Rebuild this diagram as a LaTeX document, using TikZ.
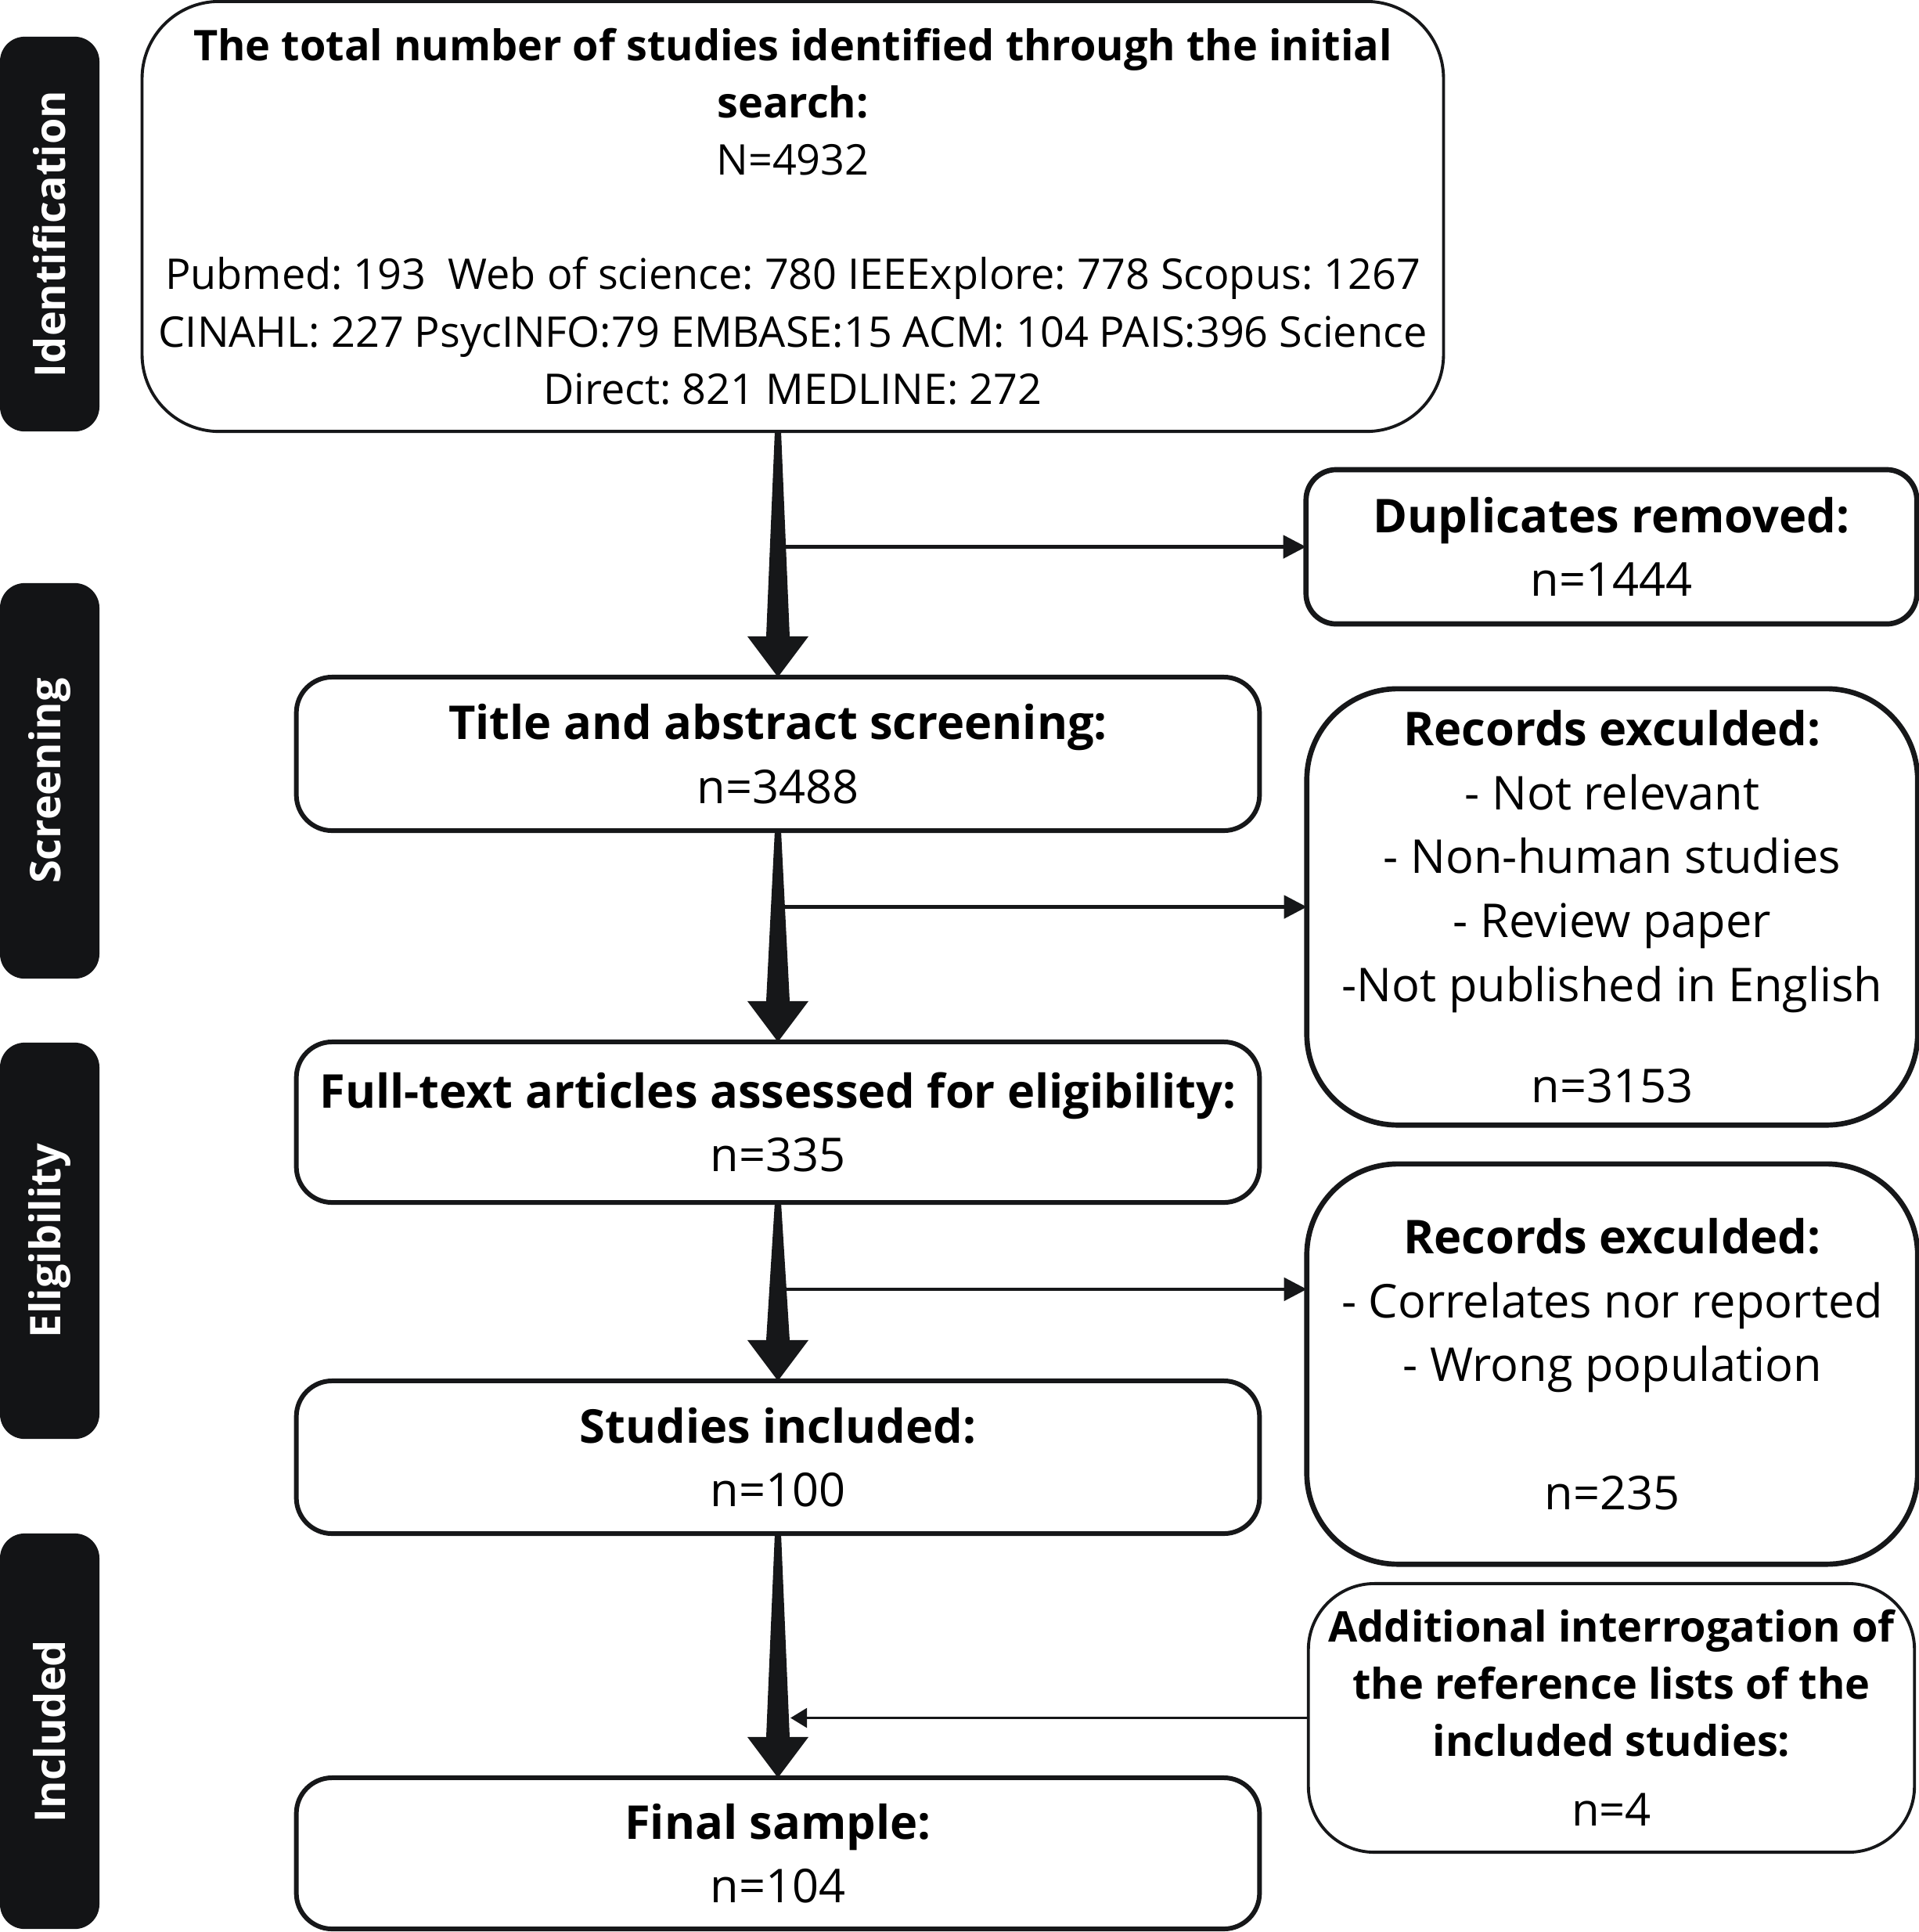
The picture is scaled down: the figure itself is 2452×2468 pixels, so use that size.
\documentclass[tikz,border=0pt]{standalone}
\usepackage{fontspec}
\setmainfont{Open Sans}
\usetikzlibrary{arrows.meta,calc}
\definecolor{ink}{HTML}{161719}
\definecolor{labfill}{HTML}{131416}
\frenchspacing
\newcommand{\bigarrow}[2]{%
  \fill[ink] ($(#1)+(-4,0)$) -- ($(#1)+(4,0)$) -- ($(#2)+(15,-52)$) -- ($(#2)+(39,-52)$)
    -- (#2) -- ($(#2)+(-39,-52)$) -- ($(#2)+(-15,-52)$) -- cycle;}
\begin{document}
\begin{tikzpicture}[x=0.01cm,y=-0.01cm,
  every node/.style={inner sep=0pt, outer sep=0pt},
  flow/.style={draw=ink, line width=1.7pt, rounded corners=13pt, align=center, minimum width=12.30cm, font=\fontsize{16.93pt}{23.2pt}\selectfont},
  sidebox/.style={draw=ink, line width=1.9pt, rounded corners=31pt, align=center, minimum width=7.80cm, font=\fontsize{16.93pt}{23.2pt}\selectfont},
  thinbox/.style={draw=ink, line width=1.1pt, align=center, font=\fontsize{15.36pt}{20.8pt}\selectfont},
  lab/.style={fill=labfill, rounded corners=9pt, rotate=90, minimum height=1.27cm, text=white, font=\bfseries\fontsize{15.36pt}{18pt}\selectfont},
  sidearrow/.style={draw=ink, line width=1.3pt, -{Triangle[length=8.3pt,width=8.3pt]}},
]
\useasboundingbox (0,0) rectangle (2452,2468);

% phase labels
\node[lab, minimum width=5.04cm] (lid) at (63.5,299) {Identification};
\node[lab, minimum width=5.05cm] (lsc) at (63.5,997.5) {Screening};
\node[lab, minimum width=5.06cm] (lel) at (63.5,1585) {Eligibility};
\node[lab, minimum width=5.05cm] (lin) at (63.5,2211.5) {Included};

% boxes
\node[thinbox, rounded corners=28pt, minimum width=16.62cm, minimum height=5.49cm] (top) at (1013,276.5)
  {{\bfseries The total number of studies identified through the initial}\\
   {\bfseries search:}\\
   N=4932\\[20.8pt]
   Pubmed: 193\ \ Web of science: 780 IEEExplore: 778 Scopus: 1267\\
   CINAHL: 227 PsycINFO:79 EMBASE:15 ACM: 104 PAIS:396 Science\\
   Direct: 821 MEDLINE: 272};
\node[sidebox, rounded corners=11pt, minimum height=1.97cm] (dup) at (2059,698.5)
  {\textbf{Duplicates removed:}\\n=1444};
\node[flow, minimum height=1.96cm] (title) at (994,963)
  {\textbf{Title and abstract screening:}\\n=3488};
\node[sidebox, rounded corners=33pt, minimum height=5.57cm] (rec1) at (2060,1158.5)
  {\textbf{Records exculded:}\\- Not relevant\\- Non-human studies\\- Review paper\\-Not published in English\\[13.7pt]n=3153};
\node[flow, minimum height=2.05cm] (full) at (994,1433.5)
  {\textbf{Full-text articles assessed for eligibility:}\\n=335};
\node[sidebox, rounded corners=33pt, minimum height=5.11cm] (rec2) at (2060,1742.5)
  {\textbf{Records exculded:}\\- Correlates nor reported\\- Wrong population\\[23.2pt]n=235};
\node[flow, minimum height=1.95cm] (stud) at (994,1861.5)
  {\textbf{Studies included:}\\n=100};
\node[thinbox, rounded corners=24pt, minimum width=7.74cm, minimum height=3.43cm] (add) at (2059,2194.5)
  {{\bfseries Additional interrogation of}\\{\bfseries the reference lists of the}\\{\bfseries included studies:}\\[4.5pt]{\fontsize{16.5pt}{20.8pt}\selectfont n=4}};
\node[flow, minimum height=1.93cm] (final) at (994,2367.5)
  {\textbf{Final sample:}\\n=104};

% main tapered arrows
\coordinate (a1) at (title.north |- top.south);
\bigarrow{a1}{title.north}
\bigarrow{title.south}{full.north}
\bigarrow{full.south}{stud.north}
\bigarrow{stud.south}{final.north}

% side arrows
\draw[sidearrow] (title.north |- dup.west) -- (dup.west);
\draw[sidearrow] (title.south |- rec1.west) -- (rec1.west);
\coordinate (e3) at ($(rec2.north west)!0.313!(rec2.south west)$);
\draw[sidearrow] (full.south |- e3) -- (e3);
\coordinate (addtip) at ($(final.north |- add.west)+(16,0)$);
\draw[draw=ink, line width=1.1pt, -{Triangle[length=6pt,width=7pt]}] (add.west) -- (addtip);
\end{tikzpicture}
\end{document}
